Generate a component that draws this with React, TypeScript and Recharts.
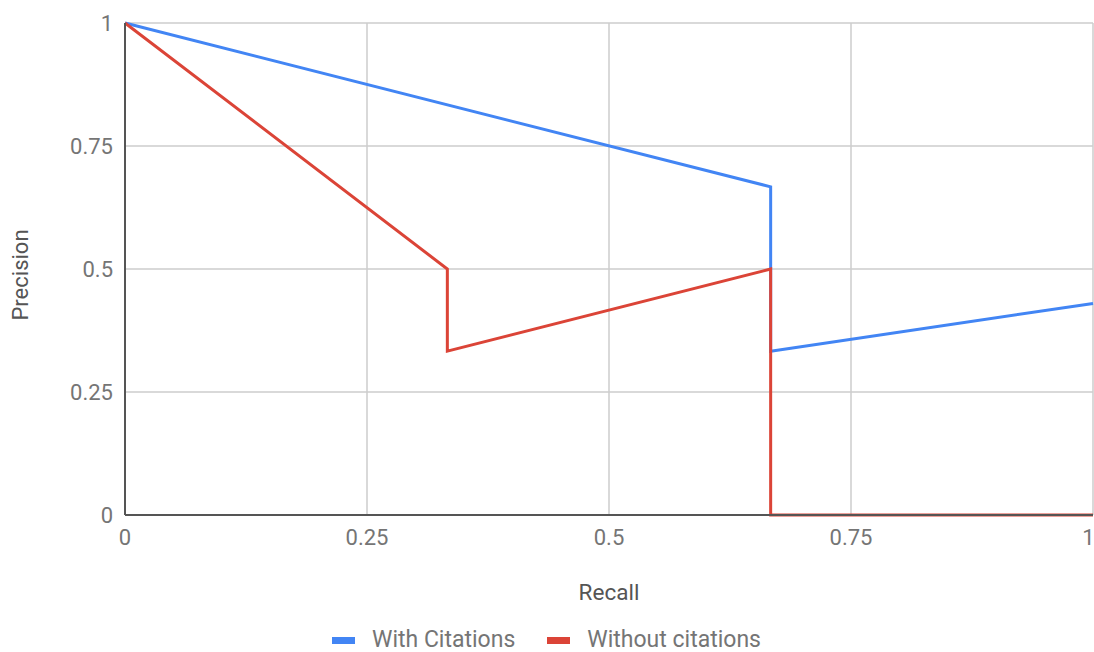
import { CartesianGrid, Legend, Line, LineChart, XAxis, YAxis } from 'recharts'

// Precision / recall curves, one point per (recall, precision) pair
const withCitationsRecall = [0, 0.667, 0.667, 1]
const withCitationsPrecision = [1, 0.667, 0.333, 0.43]

const withoutCitationsRecall = [0, 0.333, 0.333, 0.667, 0.667, 1]
const withoutCitationsPrecision = [1, 0.5, 0.333, 0.5, 0, 0]

const axisTicks = [0, 0.25, 0.5, 0.75, 1]
const tickLabels = ['0', '0.25', '0.5', '0.75', '1']

const BLUE = '#4285f4'
const RED = '#db4437'
const FONT = 'Roboto, "Noto Sans", sans-serif'

const withCitations = withCitationsRecall.map((recall, i) => ({
  recall,
  precision: withCitationsPrecision[i],
}))

const withoutCitations = withoutCitationsRecall.map((recall, i) => ({
  recall,
  precision: withoutCitationsPrecision[i],
}))

function formatTick(value: number) {
  const idx = axisTicks.indexOf(value)
  return idx >= 0 ? tickLabels[idx] : String(value)
}

function LegendContent({ payload }: { payload?: any[] }) {
  return (
    <div
      style={{
        display: 'flex',
        justifyContent: 'center',
        alignItems: 'flex-end',
        height: 30,
        fontFamily: FONT,
        fontSize: 23,
        lineHeight: '24px',
        color: '#757575',
      }}
    >
      {(payload ?? []).map((item, i) => (
        <div
          key={item.value}
          style={{ display: 'flex', alignItems: 'center', marginLeft: i > 0 ? 32 : 0, marginBottom: 0 }}
        >
          <span
            style={{
              display: 'inline-block',
              width: 23,
              height: 7,
              background: item.color,
              marginRight: 17,
            }}
          />
          <span>{item.value}</span>
        </div>
      ))}
    </div>
  )
}

export default function App() {
  return (
    <div
      style={{
        position: 'absolute',
        left: 0,
        top: 0,
        width: 1094,
        height: 652,
        overflow: 'hidden',
        background: '#fff',
        fontFamily: FONT,
      }}
    >
      <LineChart width={1094} height={652} margin={{ top: 23, right: 1, left: 0, bottom: 0 }}>
        <CartesianGrid stroke="#cccccc" strokeWidth={1.5} />
        <XAxis
          type="number"
          dataKey="recall"
          domain={[0, 1]}
          ticks={axisTicks}
          tickFormatter={formatTick}
          allowDuplicatedCategory={false}
          height={107}
          tickLine={false}
          tickSize={0}
          tickMargin={14}
          axisLine={{ stroke: '#555', strokeWidth: 2 }}
          tick={{ fill: '#757575', fontSize: 22, fontFamily: FONT }}
          label={{
            value: 'Recall',
            position: 'insideBottom',
            offset: 22,
            fill: '#555',
            fontSize: 22.5,
            fontFamily: FONT,
          }}
        />
        <YAxis
          type="number"
          dataKey="precision"
          domain={[0, 1]}
          ticks={axisTicks}
          tickFormatter={formatTick}
          width={125}
          tickLine={false}
          tickSize={0}
          tickMargin={12}
          axisLine={{ stroke: '#555', strokeWidth: 2 }}
          tick={{ fill: '#757575', fontSize: 22, fontFamily: FONT }}
          label={{
            value: 'Precision',
            angle: -90,
            position: 'center',
            dx: -42,
            dy: 6,
            fill: '#555',
            fontSize: 22,
            fontFamily: FONT,
          }}
        />
        <Legend verticalAlign="bottom" content={<LegendContent />} />
        <Line
          data={withCitations}
          dataKey="precision"
          name="With Citations"
          type="linear"
          stroke={BLUE}
          strokeWidth={3}
          dot={false}
          activeDot={false}
          isAnimationActive={false}
        />
        <Line
          data={withoutCitations}
          dataKey="precision"
          name="Without citations"
          type="linear"
          stroke={RED}
          strokeWidth={3}
          dot={false}
          activeDot={false}
          isAnimationActive={false}
        />
      </LineChart>
    </div>
  )
}
